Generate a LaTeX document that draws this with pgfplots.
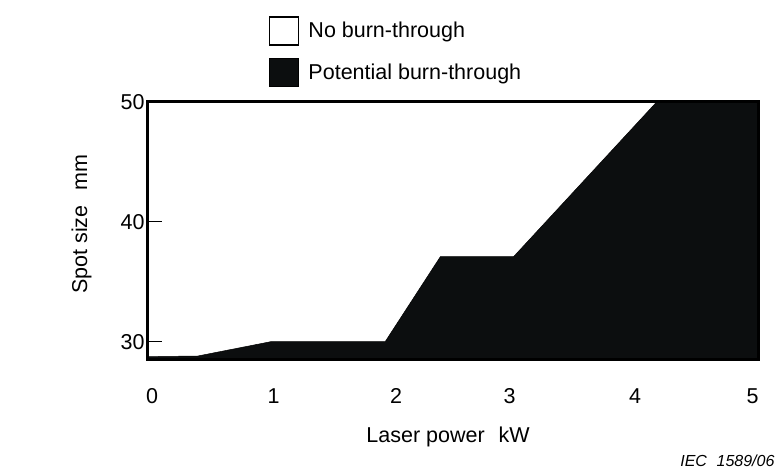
\documentclass[border=0pt]{standalone}
\usepackage{fontspec}
\setmainfont{Liberation Sans}
\usepackage{pgfplots}
\pgfplotsset{compat=1.18}
\definecolor{fillc}{RGB}{12,14,15}
\newcommand\fs{\fontsize{21.5}{25}\selectfont}
\begin{document}
\begin{tikzpicture}
\path[use as bounding box] (-148pt,-110pt) rectangle (633pt,359pt);
\begin{axis}[
  scale only axis, width=610pt, height=257pt,
  xmin=-0.035, xmax=5.044, ymin=28.55, ymax=50,
  axis on top,
  axis line style={line width=3pt},
  xtick={0,1.01,2.03,2.975,4.02,5}, xticklabels={0,1,2,3,4,5},
  ytick={30,40,50},
  xtick style={draw=none},
  ytick style={draw=none},
  yticklabel pos=left,
  major tick length=0pt,
  /pgf/number format/assume math mode=true,
  tick label style={font=\fs},
  xticklabel style={anchor=base, yshift=-44.4pt},
  xlabel={Laser power\hspace{0.65em}kW},
  xlabel style={at={(axis description cs:0.492,-0.3035)}, anchor=center, font=\fs},
  ylabel={Spot size\hspace{0.7em}mm},
  ylabel style={at={(axis description cs:-0.109,0.525)}, anchor=center, font=\fs},
  legend style={draw=none, fill=none, at={(axis description cs:0.198,1.335)}, anchor=north west,
    font=\fs, inner sep=0pt, row sep=12pt,
    /tikz/every odd column/.append style={column sep=7pt}},
  legend image code/.code={\draw[#1, line width=1.5pt] (0pt,-14pt) rectangle (29pt,14pt);},
  legend cell align=left,
]
\addlegendimage{fill=white, draw=black}
\addlegendentry{No burn-through}
\addplot[fill=fillc, draw=black, line width=0.5pt] coordinates {
  (-0.1,28) (-0.1,28.74) (0.38,28.8) (0.99,30.0) (1.94,30.0) (2.40,37.1) (3.01,37.1) (4.20,50) (5.1,50) (5.1,28)
} -- cycle;
\addlegendentry{Potential burn-through}
% inward tick marks on the left axis
\addplot[black, line width=1.2pt, forget plot] coordinates {(-0.035,40) (0.081,40)};
\addplot[black, line width=1.2pt, forget plot] coordinates {(-0.035,30) (0.081,30)};
\end{axis}
\node[anchor=east, font=\fontsize{16}{18}\selectfont\itshape] at (630pt,-102pt) {IEC\hspace{0.6em}1589/06};
\end{tikzpicture}
\end{document}
